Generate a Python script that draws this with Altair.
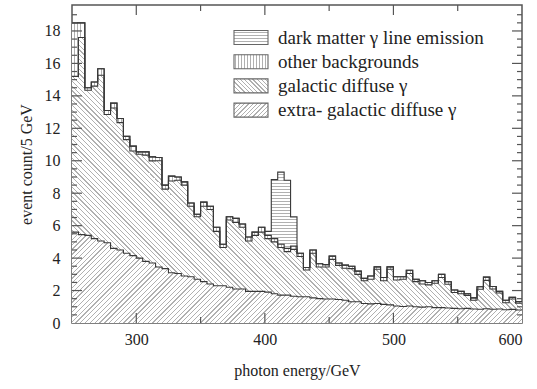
import math
import altair as alt
import pandas as pd

# ---------------- data ----------------
bin_start = list(range(250, 600, 5))  # 5 GeV bins, 250..595
bin_end = 600

extragalactic = [5.6, 5.45, 5.4, 5.2, 5.05, 4.95, 4.6, 4.5, 4.3, 4.15,
                 4.0, 3.8, 3.7, 3.45, 3.35, 3.1, 3.05, 2.9, 2.85, 2.7,
                 2.55, 2.4, 2.3, 2.3, 2.2, 2.1, 2.1, 1.95, 1.95, 1.95,
                 1.9, 1.8, 1.72, 1.72, 1.65, 1.62, 1.62, 1.55, 1.5, 1.48,
                 1.48, 1.45, 1.4, 1.31, 1.31, 1.2, 1.18, 1.2, 1.15, 1.12,
                 1.05, 1.02, 1.05, 1.0, 0.98, 1.0, 0.95, 0.95, 0.92, 0.9,
                 0.88, 0.9, 0.86, 0.85, 0.88, 0.85, 0.86, 0.82, 0.84, 0.8]

galactic = [9.6, 12.15, 8.95, 9.4, 10.22, 7.9, 8.65, 7.85, 7.0, 6.45,
            6.4, 6.55, 6.29, 6.55, 4.9, 5.65, 5.75, 5.6, 4.35, 3.85,
            4.65, 4.6, 3.35, 2.35, 4.15, 4.1, 3.8, 3.1, 3.45, 3.65,
            3.3, 3.2, 2.93, 2.68, 2.89, 2.48, 1.65, 2.75, 1.95, 1.97,
            2.44, 2.1, 1.97, 2.04, 1.69, 1.4, 1.52, 2.11, 1.45, 2.19,
            1.6, 1.68, 2.0, 1.55, 1.42, 1.35, 1.5, 1.85, 1.47, 0.98,
            0.92, 0.8, 0.54, 1.23, 1.75, 1.25, 0.99, 0.43, 0.64, 0.42]

other = [3.3, 0.9, 0.15, 0.25, 0.4, 0.25, 0.3, 0.25, 0.2, 0.3,
         0.15, 0.2, 0.25, 0.2, 0.25, 0.3, 0.2, 0.2, 0.2, 0.15,
         0.25, 0.2, 0.25, 0.2, 0.2, 0.25, 0.2, 0.25, 0.2, 0.3,
         0.2, 0.2, 0.2, 0.2, 0.2, 0.2, 0.15, 0.2, 0.2, 0.15,
         0.2, 0.15, 0.2, 0.15, 0.2, 0.15, 0.2, 0.15, 0.2, 0.15,
         0.2, 0.15, 0.2, 0.15, 0.2, 0.15, 0.15, 0.2, 0.15, 0.15,
         0.15, 0.1, 0.15, 0.15, 0.2, 0.15, 0.1, 0.15, 0.1, 0.1]

dark_matter = [0.0] * 30 + [0.25, 3.64, 4.45, 4.2, 1.8] + [0.0] * 35

legend_labels = ["dark matter \u03b3 line emission", "other backgrounds",
                 "galactic diffuse \u03b3", "extra- galactic diffuse \u03b3"]

x_label_values = [300, 400, 500, 600]
y_label_values = [0, 2, 4, 6, 8, 10, 12, 14, 16, 18]
x_major_ticks = [300, 400, 500]
x_minor_ticks = [350, 450, 550]
y_major_ticks = [2, 4, 6, 8, 10, 12, 14, 16, 18]
y_minor_ticks = [v / 2 for v in range(1, 39) if v % 4 != 0]

# ---------------- geometry / style ----------------
W, H = 450, 318
X_DOM = [250, 600]
Y_DOM = [0, 19.6]
PX_X = W / (X_DOM[1] - X_DOM[0])
PX_Y = H / (Y_DOM[1] - Y_DOM[0])
FONT = "Liberation Serif"
HATCH = "#b0b0b0"
EDGE = "#383838"
FRAME = "#555555"


def stripes(w, h, kind, s=3.4, lw=0.9, line=HATCH, bg="white"):
    """Hatching as a hard-stop linear gradient over a w x h bounding box."""
    if kind == "h":
        x1, y1, x2, y2, d = 0, 0, 0, 1, h
    elif kind == "v":
        x1, y1, x2, y2, d = 0, 0, 1, 0, w
    else:
        r = h / w
        sc = (1 + r) / (1 + r * r)
        d = (w + h) / math.sqrt(2)
        if kind == "\\":
            x1, y1, x2, y2 = 1, 0, 1 - sc, sc * r
        else:
            x1, y1, x2, y2 = 0, 0, sc, sc * r
    stops = [alt.GradientStop(offset=0, color=bg)]
    k = 0
    while True:
        a = (s / 2 + k * s) / d
        if a >= 1:
            break
        b = min((s / 2 + k * s + lw) / d, 1)
        stops += [alt.GradientStop(offset=a, color=bg),
                  alt.GradientStop(offset=a, color=line),
                  alt.GradientStop(offset=b, color=line),
                  alt.GradientStop(offset=b, color=bg)]
        k += 1
    stops.append(alt.GradientStop(offset=1, color=bg))
    return alt.Gradient(gradient="linear", stops=stops, x1=x1, y1=y1, x2=x2, y2=y2)


x_axis = alt.Axis(values=x_label_values, ticks=False, domain=False, grid=False,
                  labelFont=FONT, labelFontSize=16, labelColor="#222",
                  labelPadding=8, title="photon energy/GeV", titleFont=FONT,
                  titleFontSize=16, titleFontWeight="normal", titleColor="#222",
                  titlePadding=15)
y_axis = alt.Axis(values=y_label_values, ticks=False, domain=False, grid=False,
                  labelFont=FONT, labelFontSize=16, labelColor="#222",
                  labelPadding=12, title="event count/5 GeV", titleFont=FONT,
                  titleFontSize=16, titleFontWeight="normal", titleColor="#222",
                  titlePadding=10)
x_scale = alt.Scale(domain=X_DOM, nice=False, zero=False)
y_scale = alt.Scale(domain=Y_DOM, nice=False)


def X(field):
    return alt.X(field, type="quantitative", scale=x_scale, axis=x_axis)


def Y(field):
    return alt.Y(field, type="quantitative", scale=y_scale, axis=y_axis)


# cumulative boundaries
b1 = [e for e in extragalactic]
b2 = [a + g for a, g in zip(b1, galactic)]
b3 = [a + o for a, o in zip(b2, other)]
b4 = [a + d for a, d in zip(b3, dark_matter)]
xs = bin_start + [bin_end]


def ext(v):
    return v + [v[-1]]


layers_def = [
    ("extra", [0.0] * len(b1), b1, "/"),
    ("galactic", b1, b2, "\\"),
    ("other", b2, b3, "v"),
]

layers = []
for name, lo, hi, kind in layers_def:
    df = pd.DataFrame({"x": xs, "lo": ext(lo), "hi": ext(hi)})
    bw = (xs[-1] - xs[0]) * PX_X
    bh = (max(df["hi"]) - min(df["lo"])) * PX_Y
    layers.append(
        alt.Chart(df).mark_area(interpolate="step-after", opacity=1,
                                fill=stripes(bw, bh, kind))
        .encode(x=X("x"), y=Y("hi"), y2="lo")
    )

# dark matter layer restricted to the bins where it is present
idx = [i for i, d in enumerate(dark_matter) if d > 0]
dm_x = [bin_start[i] for i in idx] + [bin_start[idx[-1]] + 5]
dm_lo = [b3[i] for i in idx] + [b3[idx[-1]]]
dm_hi = [b4[i] for i in idx] + [b4[idx[-1]]]
dm_df = pd.DataFrame({"x": dm_x, "lo": dm_lo, "hi": dm_hi})
dm_w = (dm_x[-1] - dm_x[0]) * PX_X
dm_h = (max(dm_hi) - min(dm_lo)) * PX_Y
layers.append(
    alt.Chart(dm_df).mark_area(interpolate="step-after", opacity=1,
                               fill=stripes(dm_w, dm_h, "h", s=3.0))
    .encode(x=X("x"), y=Y("hi"), y2="lo")
)

# outlines
rows = []
for name, vals in [("b1", b1), ("b2", b2), ("b3", b3), ("b4", b4)]:
    for x, v in zip(xs, ext(vals)):
        rows.append({"x": x, "y": v, "b": name})
outline = alt.Chart(pd.DataFrame(rows)).mark_line(
    interpolate="step-after", color=EDGE, strokeWidth=1.1
).encode(x=X("x"), y=Y("y"), detail="b:N")
layers.append(outline)


# inward ticks on all four sides
def xticks(vals, length):
    d = pd.DataFrame({"v": vals})
    bot = alt.Chart(d).mark_rule(color=FRAME, strokeWidth=1.2).encode(
        x=X("v"), y=alt.value(H), y2=alt.value(H - length))
    top = alt.Chart(d).mark_rule(color=FRAME, strokeWidth=1.2).encode(
        x=X("v"), y=alt.value(0), y2=alt.value(length))
    return [bot, top]


def yticks(vals, length):
    d = pd.DataFrame({"v": vals})
    left = alt.Chart(d).mark_rule(color=FRAME, strokeWidth=1.2).encode(
        y=Y("v"), x=alt.value(0), x2=alt.value(length))
    right = alt.Chart(d).mark_rule(color=FRAME, strokeWidth=1.2).encode(
        y=Y("v"), x=alt.value(W), x2=alt.value(W - length))
    return [left, right]


layers += xticks(x_major_ticks, 10) + xticks(x_minor_ticks, 6)
layers += yticks(y_major_ticks, 10) + yticks(y_minor_ticks, 5)

# legend
one = pd.DataFrame({"k": [0]})
LBX0, LBX1 = 162, 196
LTX = 206
kinds = ["h", "v", "\\", "/"]
for i, (lab, kind) in enumerate(zip(legend_labels, kinds)):
    cy = 32.5 + 24.2 * i
    layers.append(
        alt.Chart(one).mark_rect(fill=stripes(LBX1 - LBX0, 14, kind, s=3.0),
                                 stroke="#666", strokeWidth=1.1)
        .encode(x=alt.value(LBX0), x2=alt.value(LBX1),
                y=alt.value(cy - 7), y2=alt.value(cy + 7))
    )
    layers.append(
        alt.Chart(one).mark_text(align="left", baseline="middle", font=FONT,
                                 fontSize=19, color="#222")
        .encode(x=alt.value(LTX), y=alt.value(cy), text=alt.value(lab))
    )

chart = alt.layer(*layers).properties(
    width=W, height=H,
    autosize=alt.AutoSizeParams(type="none"),
    padding={"left": 72, "top": 5, "right": 15, "bottom": 66},
    background="white",
).configure_view(stroke=FRAME, strokeWidth=1.5)

chart.save("out.html", embed_options={"renderer": "svg", "actions": False})
